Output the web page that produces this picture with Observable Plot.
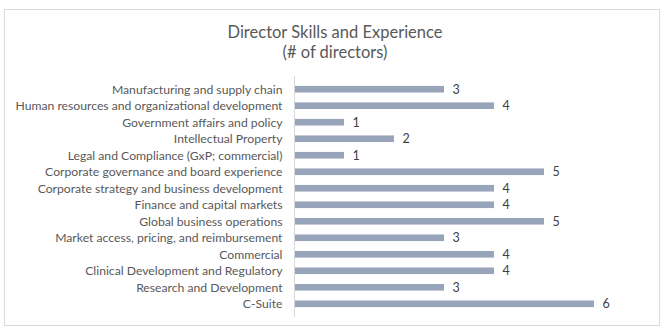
<!DOCTYPE html>
<html>
<head>
<meta charset="utf-8">
<script src="https://cdn.jsdelivr.net/npm/d3@7"></script>
<script src="https://cdn.jsdelivr.net/npm/@observablehq/plot@0.6"></script>
<style>
  html, body { margin: 0; padding: 0; background: #fff; }
  #wrap { position: relative; width: 670px; height: 332px; overflow: hidden; font-family: Lato, "Open Sans", sans-serif; }
  #frame { position: absolute; left: 4px; top: 9px; width: 656px; height: 317px; border: 1px solid #d9d9d9; box-sizing: border-box; }
  .ttl { position: absolute; left: 0; width: 670px; text-align: center; color: #595959; font-size: 16.5px; line-height: 1; }
  #chart { position: absolute; left: 0; top: 0; }
</style>
</head>
<body>
<div id="wrap">
  <div id="frame"></div>
  <div class="ttl" style="top:24px;">Director Skills and Experience</div>
  <div class="ttl" style="top:44px;">(# of directors)</div>
  <div id="chart"></div>
</div>
<script>
const categories = [
  "Manufacturing and supply chain",
  "Human resources and organizational development",
  "Government affairs and policy",
  "Intellectual Property",
  "Legal and Compliance (GxP; commercial)",
  "Corporate governance and board experience",
  "Corporate strategy and business development",
  "Finance and capital markets",
  "Global business operations",
  "Market access, pricing, and reimbursement",
  "Commercial",
  "Clinical Development and Regulatory",
  "Research and Development",
  "C-Suite"
];
const values = [3, 4, 1, 2, 1, 5, 4, 4, 5, 3, 4, 4, 3, 6];

const data = categories.map((c, i) => ({category: c, value: values[i]}));

const chart = Plot.plot({
  width: 670,
  height: 332,
  marginLeft: 294,
  marginRight: 26,
  marginTop: 76,
  marginBottom: 15,
  style: {fontFamily: "Lato, 'Open Sans', sans-serif", fontSize: "12.2px", color: "#595959", background: "transparent"},
  x: {domain: [0, 7], axis: null},
  y: {domain: categories, padding: 0.6, round: false, label: null},
  marks: [
    Plot.barX(data, {y: "category", x: "value", fill: "#98a4ba"}),
    Plot.ruleX([0], {stroke: "#d9d9d9", strokeWidth: 1}),
    Plot.text(data, {y: "category", x: "value", text: d => String(d.value), textAnchor: "start", dx: 8, fill: "#404040", fontSize: 12.5}),
    Plot.axisY({tickSize: 0, tickPadding: 12, label: null, fill: "#595959", fontSize: 12.2})
  ]
});
document.getElementById("chart").appendChild(chart);
</script>
</body>
</html>
